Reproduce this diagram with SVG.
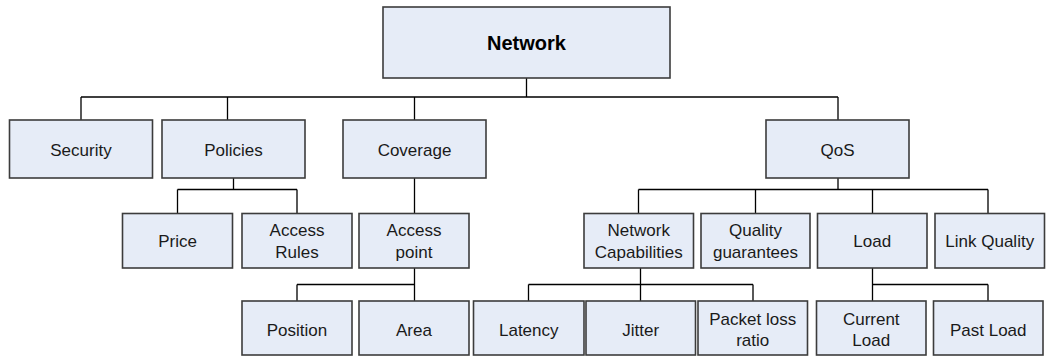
<svg xmlns="http://www.w3.org/2000/svg" width="1054" height="356" viewBox="0 0 1054 356">
  <style>
    .box { fill: #E6ECF7; stroke: #3C3C3C; stroke-width: 1.6; }
    .lbl { font-family: "Liberation Sans", Arial, sans-serif; font-size: 17px; fill: #1A1A1A; text-anchor: middle; }
    .root { font-size: 20px; font-weight: bold; fill: #000; }
    .wire { fill: none; stroke: #000; stroke-width: 1.3; }
  </style>
  <rect width="1054" height="356" fill="#FFFFFF"/>

  <!-- tree connectors -->
  <g id="connectors" class="wire">
    <!-- Network to first level -->
    <path d="M526.5,78 V97 M81,97 H838 M81,97 V120 M227.5,97 V120 M414.5,97 V120 M838,97 V120"/>
    <!-- Policies -->
    <path d="M233.5,178 V189.5 M177.5,189.5 H297 M177.5,189.5 V213.5 M297,189.5 V213.5"/>
    <!-- Coverage -->
    <path d="M414.5,178 V213.5"/>
    <!-- QoS -->
    <path d="M838,178 V189.5 M638.5,189.5 H988 M638.5,189.5 V213.5 M755.5,189.5 V213.5 M872.5,189.5 V213.5 M988,189.5 V213.5"/>
    <!-- Access point -->
    <path d="M414.5,268 V301 M297,284.5 H414.5 M297,284.5 V301"/>
    <!-- Network Capabilities -->
    <path d="M640.5,268 V284.5 M528.5,284.5 H753 M528.5,284.5 V301 M640.5,284.5 V301 M753,284.5 V301"/>
    <!-- Load -->
    <path d="M872.5,268 V301 M872.5,284.5 H988 M988,284.5 V301"/>
  </g>

  <g id="network">
    <rect class="box" x="383" y="7" width="287" height="71"/>
    <text class="lbl root" x="526.5" y="50">Network</text>
  </g>

  <!-- first level -->
  <g id="security">
    <rect class="box" x="9.5" y="120" width="143" height="58"/>
    <text class="lbl" x="81" y="156">Security</text>
  </g>
  <g id="policies">
    <rect class="box" x="162" y="120" width="143" height="58"/>
    <text class="lbl" x="233.5" y="156">Policies</text>
  </g>
  <g id="coverage">
    <rect class="box" x="343" y="120" width="143" height="58"/>
    <text class="lbl" x="414.5" y="156">Coverage</text>
  </g>
  <g id="qos">
    <rect class="box" x="766" y="120" width="143" height="58"/>
    <text class="lbl" x="837.5" y="156">QoS</text>
  </g>

  <!-- second level -->
  <g id="price">
    <rect class="box" x="122.5" y="213.5" width="110" height="54.5"/>
    <text class="lbl" x="177.5" y="247">Price</text>
  </g>
  <g id="access-rules">
    <rect class="box" x="242" y="213.5" width="110" height="54.5"/>
    <text class="lbl" x="297" y="236">Access</text>
    <text class="lbl" x="297" y="257.5">Rules</text>
  </g>
  <g id="access-point">
    <rect class="box" x="359" y="213.5" width="110" height="54.5"/>
    <text class="lbl" x="414" y="236">Access</text>
    <text class="lbl" x="414" y="257.5">point</text>
  </g>
  <g id="network-capabilities">
    <rect class="box" x="584" y="213.5" width="109.5" height="54.5"/>
    <text class="lbl" x="638.75" y="236">Network</text>
    <text class="lbl" x="638.75" y="257.5">Capabilities</text>
  </g>
  <g id="quality-guarantees">
    <rect class="box" x="701" y="213.5" width="109" height="54.5"/>
    <text class="lbl" x="755.5" y="236">Quality</text>
    <text class="lbl" x="755.5" y="257.5">guarantees</text>
  </g>
  <g id="load">
    <rect class="box" x="817.5" y="213.5" width="109.5" height="54.5"/>
    <text class="lbl" x="872.25" y="247">Load</text>
  </g>
  <g id="link-quality">
    <rect class="box" x="935" y="213.5" width="109.5" height="54.5"/>
    <text class="lbl" x="989.75" y="247">Link Quality</text>
  </g>

  <!-- third level -->
  <g id="position">
    <rect class="box" x="242" y="301" width="110" height="54"/>
    <text class="lbl" x="297" y="335.5">Position</text>
  </g>
  <g id="area">
    <rect class="box" x="359" y="301" width="110" height="54"/>
    <text class="lbl" x="414" y="335.5">Area</text>
  </g>
  <g id="latency">
    <rect class="box" x="473.5" y="301" width="110.5" height="54"/>
    <text class="lbl" x="528.75" y="335.5">Latency</text>
  </g>
  <g id="jitter">
    <rect class="box" x="586" y="301" width="109.5" height="54"/>
    <text class="lbl" x="640.75" y="335.5">Jitter</text>
  </g>
  <g id="packet-loss-ratio">
    <rect class="box" x="698" y="301" width="109.5" height="54"/>
    <text class="lbl" x="752.75" y="324.5">Packet loss</text>
    <text class="lbl" x="752.75" y="346">ratio</text>
  </g>
  <g id="current-load">
    <rect class="box" x="816.5" y="301" width="109.5" height="54"/>
    <text class="lbl" x="871.25" y="324.5">Current</text>
    <text class="lbl" x="871.25" y="346">Load</text>
  </g>
  <g id="past-load">
    <rect class="box" x="933.5" y="301" width="109.5" height="54"/>
    <text class="lbl" x="988.25" y="335.5">Past Load</text>
  </g>
</svg>
